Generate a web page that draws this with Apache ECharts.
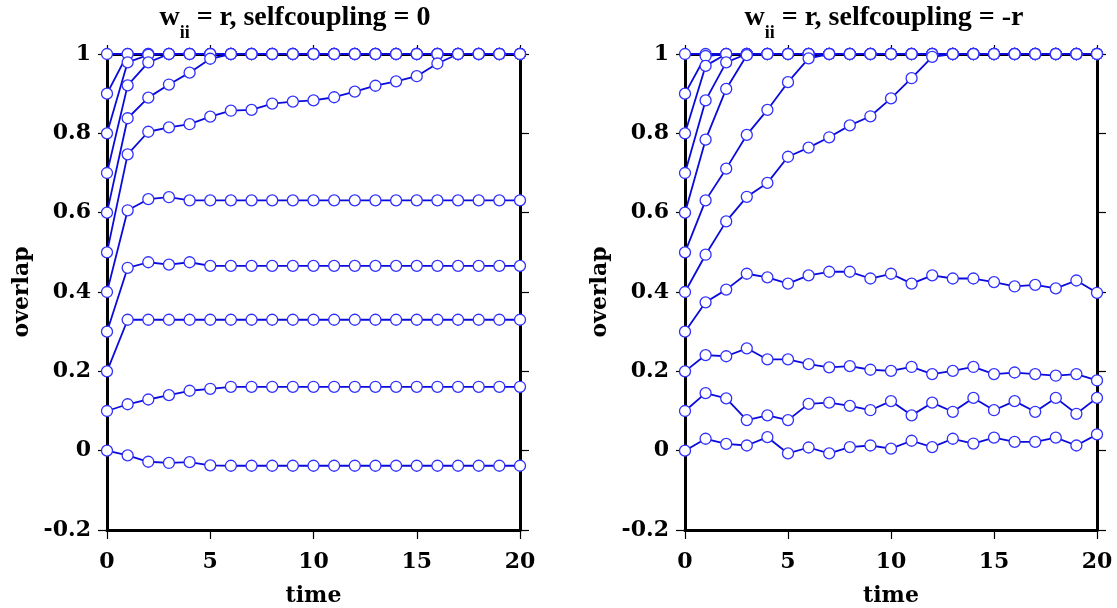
<!DOCTYPE html>
<html>
<head>
<meta charset="utf-8">
<script src="https://cdn.jsdelivr.net/npm/echarts@6/dist/echarts.min.js"></script>
<style>
  html, body { margin: 0; padding: 0; background: #fff; }
  #main { width: 1117px; height: 608px; }
</style>
</head>
<body>
<div id="main"></div>
<script>
// NOTE - Data

const time = [0, 1, 2, 3, 4, 5, 6, 7, 8, 9, 10, 11, 12, 13, 14, 15, 16, 17, 18, 19, 20];
const xTicks = [0, 5, 10, 15, 20];
const yTicks = [-0.2, 0, 0.2, 0.4, 0.6, 0.8, 1];

// left panel: selfcoupling = 0, one run per starting overlap
const selfZero = [
  [1, 1, 1, 1, 1, 1, 1, 1, 1, 1, 1, 1, 1, 1, 1, 1, 1, 1, 1, 1, 1],
  [0.9, 1, 1, 1, 1, 1, 1, 1, 1, 1, 1, 1, 1, 1, 1, 1, 1, 1, 1, 1, 1],
  [0.8, 0.979, 0.998, 1, 1, 1, 1, 1, 1, 1, 1, 1, 1, 1, 1, 1, 1, 1, 1, 1, 1],
  [0.7, 0.921, 0.979, 1, 1, 1, 1, 1, 1, 1, 1, 1, 1, 1, 1, 1, 1, 1, 1, 1, 1],
  [0.6, 0.838, 0.89, 0.923, 0.953, 0.988, 1, 1, 1, 1, 1, 1, 1, 1, 1, 1, 1, 1, 1, 1, 1],
  [0.5, 0.747, 0.804, 0.815, 0.823, 0.842, 0.857, 0.859, 0.875, 0.88, 0.883, 0.891, 0.905, 0.92, 0.931, 0.944, 0.976, 1, 1, 1, 1],
  [0.4, 0.606, 0.634, 0.639, 0.631, 0.631, 0.631, 0.631, 0.631, 0.631, 0.631, 0.631, 0.631, 0.631, 0.631, 0.631, 0.631, 0.631, 0.631, 0.631, 0.631],
  [0.3, 0.461, 0.475, 0.469, 0.475, 0.466, 0.466, 0.466, 0.466, 0.466, 0.466, 0.466, 0.466, 0.466, 0.466, 0.466, 0.466, 0.466, 0.466, 0.466, 0.466],
  [0.2, 0.33, 0.33, 0.33, 0.33, 0.33, 0.33, 0.33, 0.33, 0.33, 0.33, 0.33, 0.33, 0.33, 0.33, 0.33, 0.33, 0.33, 0.33, 0.33, 0.33],
  [0.1, 0.117, 0.129, 0.14, 0.151, 0.156, 0.161, 0.161, 0.161, 0.161, 0.161, 0.161, 0.161, 0.161, 0.161, 0.161, 0.161, 0.161, 0.161, 0.161, 0.161],
  [0, -0.012, -0.028, -0.031, -0.029, -0.037, -0.038, -0.038, -0.038, -0.038, -0.038, -0.038, -0.038, -0.038, -0.038, -0.038, -0.038, -0.038, -0.038, -0.038, -0.038]
];

// right panel: selfcoupling = -r
const selfMinusR = [
  [1, 1, 1, 1, 1, 1, 1, 1, 1, 1, 1, 1, 1, 1, 1, 1, 1, 1, 1, 1, 1],
  [0.9, 0.995, 1, 1, 1, 1, 1, 1, 1, 1, 1, 1, 1, 1, 1, 1, 1, 1, 1, 1, 1],
  [0.8, 0.97, 1, 1, 1, 1, 1, 1, 1, 1, 1, 1, 1, 1, 1, 1, 1, 1, 1, 1, 1],
  [0.7, 0.883, 0.979, 1, 1, 1, 1, 1, 1, 1, 1, 1, 1, 1, 1, 1, 1, 1, 1, 1, 1],
  [0.6, 0.784, 0.912, 0.997, 1, 1, 1, 1, 1, 1, 1, 1, 1, 1, 1, 1, 1, 1, 1, 1, 1],
  [0.5, 0.631, 0.711, 0.796, 0.859, 0.929, 0.989, 1, 1, 1, 1, 1, 1, 1, 1, 1, 1, 1, 1, 1, 1],
  [0.4, 0.494, 0.578, 0.64, 0.675, 0.741, 0.764, 0.79, 0.82, 0.843, 0.888, 0.939, 0.993, 1, 1, 1, 1, 1, 1, 1, 1],
  [0.3, 0.374, 0.406, 0.446, 0.437, 0.421, 0.442, 0.451, 0.451, 0.434, 0.446, 0.421, 0.442, 0.434, 0.434, 0.425, 0.414, 0.418, 0.409, 0.429, 0.398],
  [0.2, 0.241, 0.238, 0.258, 0.23, 0.23, 0.218, 0.21, 0.213, 0.204, 0.201, 0.211, 0.193, 0.201, 0.211, 0.193, 0.197, 0.193, 0.189, 0.193, 0.177],
  [0.1, 0.145, 0.132, 0.077, 0.089, 0.077, 0.118, 0.121, 0.113, 0.102, 0.125, 0.089, 0.121, 0.098, 0.133, 0.102, 0.125, 0.098, 0.133, 0.093, 0.133],
  [0, 0.03, 0.017, 0.013, 0.034, -0.007, 0.008, -0.007, 0.009, 0.013, 0.005, 0.025, 0.009, 0.03, 0.018, 0.033, 0.022, 0.022, 0.033, 0.013, 0.041]
];

const panelTitles = ['= r, selfcoupling = 0', '= r, selfcoupling = -r'];

// NOTE - Styles

const serif = 'DejaVu Serif';
const tickLabel = { fontFamily: serif, fontWeight: 'bold', fontSize: 22, color: '#000' };
const lineBlue = '#0a0adc';
const markBlue = '#3030ff';

// NOTE - Axes

function xAxisFor(grid, pos) {
  const bottom = pos === 'bottom';
  return {
    type: 'value', gridIndex: grid, position: pos,
    min: xTicks[0], max: xTicks[xTicks.length - 1], interval: xTicks[1] - xTicks[0],
    name: bottom ? 'time' : '', nameLocation: 'middle', nameGap: 55,
    nameTextStyle: { fontFamily: serif, fontWeight: 'bold', fontSize: 22, color: '#000' },
    axisLine: { show: true, onZero: false, lineStyle: { color: '#000', width: 3 } },
    axisTick: { show: true, inside: false, length: 9, lineStyle: { color: '#000', width: 1.2 } },
    axisLabel: Object.assign({ show: bottom, margin: 21 }, tickLabel),
    splitLine: { show: false }
  };
}

function yAxisFor(grid, pos) {
  const left = pos === 'left';
  return {
    type: 'value', gridIndex: grid, position: pos,
    min: yTicks[0], max: yTicks[yTicks.length - 1], interval: yTicks[2] - yTicks[1],
    name: left ? 'overlap' : '', nameLocation: 'middle', nameGap: 74, nameRotate: 90,
    nameTextStyle: { fontFamily: serif, fontWeight: 'bold', fontSize: 22, color: '#000' },
    axisLine: { show: true, onZero: false, lineStyle: { color: '#000', width: 3 } },
    axisTick: { show: true, inside: false, length: 9, lineStyle: { color: '#000', width: 1.2 } },
    axisLabel: Object.assign({ show: left, margin: 16 }, tickLabel),
    splitLine: { show: false }
  };
}

// NOTE - Series

function runsToSeries(runs, axisIdx) {
  return runs.map(run => ({
    type: 'line',
    xAxisIndex: axisIdx, yAxisIndex: axisIdx,
    data: time.map((t, i) => [t, run[i]]),
    symbol: 'circle', symbolSize: 11, showAllSymbol: true,
    clip: false,
    lineStyle: { color: lineBlue, width: 1.8 },
    itemStyle: { color: '#fff', borderColor: markBlue, borderWidth: 1.3 },
    emphasis: { disabled: true }
  }));
}

function titleText(x, rest) {
  return {
    type: 'text', x: x, y: 4,
    style: {
      text: '{a|w}{s|ii}{a| ' + rest + '}',
      align: 'center', verticalAlign: 'top',
      rich: {
        a: { fontFamily: 'Liberation Serif', fontWeight: 'bold', fontSize: 28, lineHeight: 30, verticalAlign: 'top', fill: '#000', color: '#000' },
        s: { fontFamily: 'Liberation Serif', fontWeight: 'bold', fontSize: 18, lineHeight: 20, verticalAlign: 'top', padding: [20, 0, 0, 0], fill: '#000', color: '#000' }
      }
    }
  };
}

var myChart = echarts.init(document.getElementById('main'), null, { renderer: 'canvas' });

var option = {
  animation: false,
  backgroundColor: '#fff',
  grid: [
    { left: 107, width: 413, top: 54, height: 476, outerBoundsMode: 'none', containLabel: false },
    { left: 685, width: 412, top: 54, height: 476, outerBoundsMode: 'none', containLabel: false }
  ],
  xAxis: [xAxisFor(0, 'bottom'), xAxisFor(1, 'bottom'), xAxisFor(0, 'top'), xAxisFor(1, 'top')],
  yAxis: [yAxisFor(0, 'left'), yAxisFor(1, 'left'), yAxisFor(0, 'right'), yAxisFor(1, 'right')],
  graphic: [titleText(295, panelTitles[0]), titleText(884, panelTitles[1])],
  series: runsToSeries(selfZero, 0).concat(runsToSeries(selfMinusR, 1))
};

myChart.setOption(option);
</script>
</body>
</html>
